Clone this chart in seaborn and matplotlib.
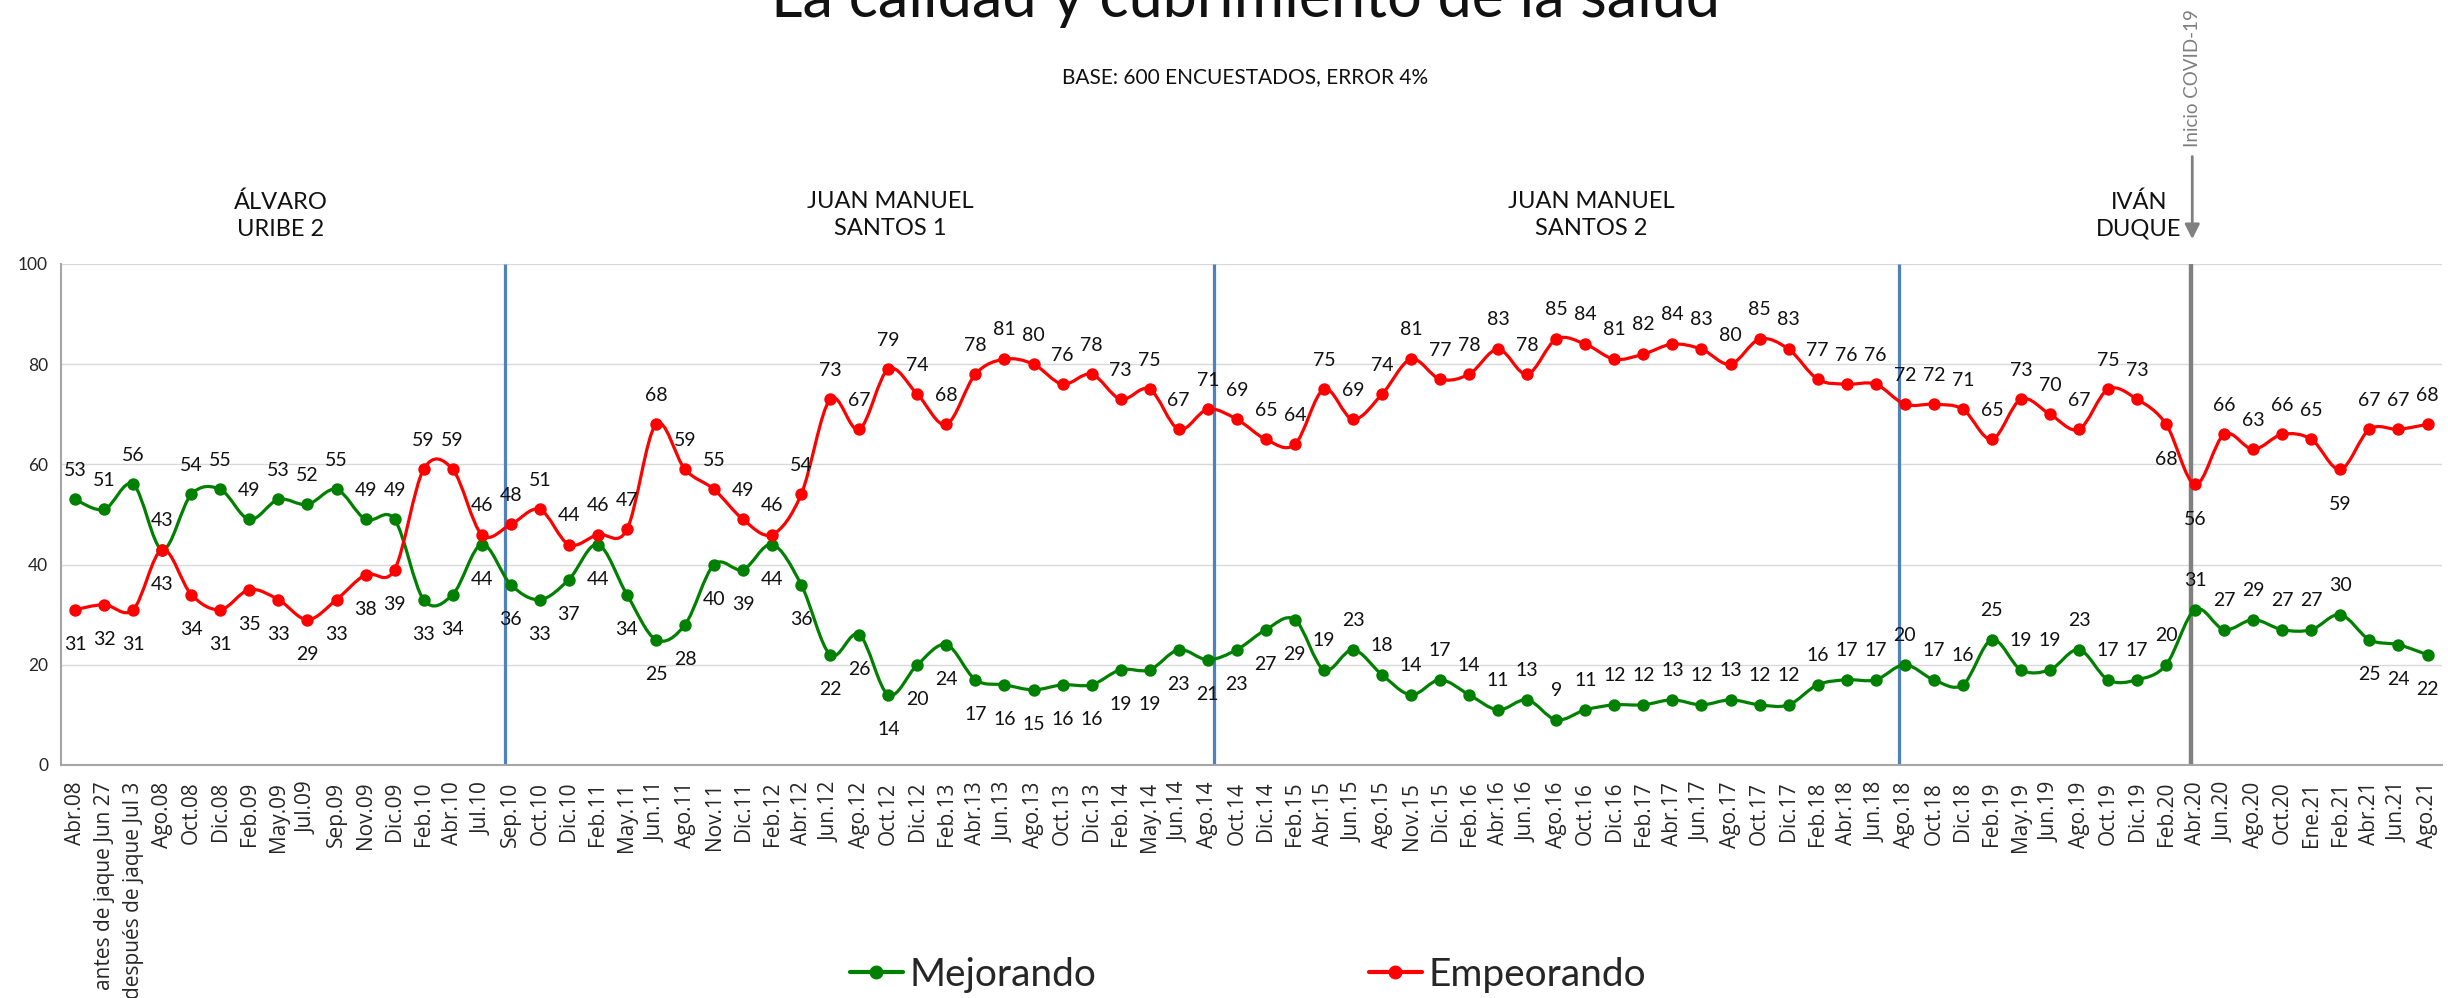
import numpy as np
import pandas as pd
import matplotlib
matplotlib.use('Agg')
import matplotlib.pyplot as plt
import matplotlib.transforms as mtransforms
from matplotlib.path import Path
from matplotlib.patches import PathPatch
from matplotlib.lines import Line2D
import seaborn as sns

# ==================== datos ====================
periodos = [
    'Abr.08', 'antes de jaque Jun 27', 'después de jaque Jul 3', 'Ago.08', 'Oct.08', 'Dic.08',
    'Feb.09', 'May.09', 'Jul.09', 'Sep.09', 'Nov.09', 'Dic.09', 'Feb.10', 'Abr.10', 'Jul.10',
    'Sep.10', 'Oct.10', 'Dic.10', 'Feb.11', 'May.11', 'Jun.11', 'Ago.11', 'Nov.11', 'Dic.11',
    'Feb.12', 'Abr.12', 'Jun.12', 'Ago.12', 'Oct.12', 'Dic.12', 'Feb.13', 'Abr.13', 'Jun.13',
    'Ago.13', 'Oct.13', 'Dic.13', 'Feb.14', 'May.14', 'Jun.14', 'Ago.14', 'Oct.14', 'Dic.14',
    'Feb.15', 'Abr.15', 'Jun.15', 'Ago.15', 'Nov.15', 'Dic.15', 'Feb.16', 'Abr.16', 'Jun.16',
    'Ago.16', 'Oct.16', 'Dic.16', 'Feb.17', 'Abr.17', 'Jun.17', 'Ago.17', 'Oct.17', 'Dic.17',
    'Feb.18', 'Abr.18', 'Jun.18', 'Ago.18', 'Oct.18', 'Dic.18', 'Feb.19', 'May.19', 'Jun.19',
    'Ago.19', 'Oct.19', 'Dic.19', 'Feb.20', 'Abr.20', 'Jun.20', 'Ago.20', 'Oct.20', 'Ene.21',
    'Feb.21', 'Abr.21', 'Jun.21', 'Ago.21',
]

mejorando = [
    53, 51, 56, 43, 54, 55, 49, 53, 52, 55,
    49, 49, 33, 34, 44, 36, 33, 37, 44, 34,
    25, 28, 40, 39, 44, 36, 22, 26, 14, 20,
    24, 17, 16, 15, 16, 16, 19, 19, 23, 21,
    23, 27, 29, 19, 23, 18, 14, 17, 14, 11,
    13, 9, 11, 12, 12, 13, 12, 13, 12, 12,
    16, 17, 17, 20, 17, 16, 25, 19, 19, 23,
    17, 17, 20, 31, 27, 29, 27, 27, 30, 25,
    24, 22,
]

empeorando = [
    31, 32, 31, 43, 34, 31, 35, 33, 29, 33,
    38, 39, 59, 59, 46, 48, 51, 44, 46, 47,
    68, 59, 55, 49, 46, 54, 73, 67, 79, 74,
    68, 78, 81, 80, 76, 78, 73, 75, 67, 71,
    69, 65, 64, 75, 69, 74, 81, 77, 78, 83,
    78, 85, 84, 81, 82, 84, 83, 80, 85, 83,
    77, 76, 76, 72, 72, 71, 65, 73, 70, 67,
    75, 73, 68, 56, 66, 63, 66, 65, 59, 67,
    67, 68,
]

presidentes = ['ÁLVARO\nURIBE 2', 'JUAN MANUEL\nSANTOS 1', 'JUAN MANUEL\nSANTOS 2', 'IVÁN\nDUQUE']

# posiciones de las etiquetas (debajo del punto)
verde_abajo = set(range(12, 43)) | {79, 80, 81}
rojo_abajo = set(range(0, 12)) | {72, 73, 78}

VERDE = '#008000'
ROJO = '#ff0000'

sns.set_theme(style='white')
plt.rcParams['font.family'] = ['Lato', 'DejaVu Sans']

df = pd.DataFrame({
    'idx': np.arange(len(periodos)),
    'periodo': periodos,
    'Mejorando': mejorando,
    'Empeorando': empeorando,
})

fig = plt.figure(figsize=(24.48, 9.98), dpi=100)
ax = fig.add_axes([0.02476, 0.2335, 0.9728, 0.502])


def curva_suave(x, y):
    # bezier tipo Excel: puntos de control con los vecinos
    x = np.asarray(x, float)
    y = np.asarray(y, float)
    n = len(x)
    verts = [(x[0], y[0])]
    codes = [Path.MOVETO]
    for i in range(n - 1):
        x0, y0 = (x[i - 1], y[i - 1]) if i > 0 else (x[i], y[i])
        x3, y3 = (x[i + 2], y[i + 2]) if i + 2 < n else (x[i + 1], y[i + 1])
        c1 = (x[i] + (x[i + 1] - x0) / 6, y[i] + (y[i + 1] - y0) / 6)
        c2 = (x[i + 1] - (x3 - x[i]) / 6, y[i + 1] - (y3 - y[i]) / 6)
        verts += [c1, c2, (x[i + 1], y[i + 1])]
        codes += [Path.CURVE4] * 3
    return Path(verts, codes)


for serie, color, abajo in [('Mejorando', VERDE, verde_abajo), ('Empeorando', ROJO, rojo_abajo)]:
    ax.add_patch(PathPatch(curva_suave(df['idx'], df[serie]), fill=False,
                           edgecolor=color, lw=2.3, zorder=3))
    sns.scatterplot(data=df, x='idx', y=serie, color=color, s=80, linewidth=0,
                    ax=ax, zorder=4)
    for i, v in enumerate(df[serie]):
        dy = -25 if i in abajo else 21
        ax.annotate(str(v), (i, v), xytext=(0, dy), textcoords='offset points',
                    ha='center', va='center', fontsize=14, color='#111111', zorder=5)

# líneas de cambio de gobierno
ax.vlines([14.81, 39.22, 62.8], 0, 100, color='#4f81bd', lw=2.3, zorder=2)
ax.vlines(72.85, 0, 100, color='#808080', lw=3.2, zorder=2)

ax.set_xlim(-0.5, len(periodos) - 0.5)
ax.set_ylim(0, 100)
ax.set_yticks(range(0, 101, 20))
ax.set_xticks(df['idx'])
ax.set_xticklabels(periodos, rotation=90, fontsize=15, family=['Open Sans', 'DejaVu Sans'])
ax.set_xticks(np.arange(-0.5, len(periodos), 1), minor=True)
ax.tick_params(axis='x', which='major', length=0, pad=12)
ax.tick_params(axis='x', which='minor', length=6, width=1.3, color='#a6a6a6', direction='out')
ax.tick_params(axis='y', length=6, width=1.3, color='#a6a6a6', labelsize=12.5, pad=3, direction='out')
ax.set_xlabel('')
ax.set_ylabel('')
ax.grid(axis='y', color='#d9d9d9', lw=1.0)
ax.grid(axis='x', visible=False)
for s in ['top', 'right']:
    ax.spines[s].set_visible(False)
for s in ['left', 'bottom']:
    ax.spines[s].set_color('#a6a6a6')
    ax.spines[s].set_linewidth(1.5)

trans = mtransforms.blended_transform_factory(ax.transData, ax.transAxes)
for x, txt in zip([7.08, 28.06, 52.2, 71.07], presidentes):
    ax.text(x, 1.097, txt, transform=trans, ha='center', va='center', fontsize=17,
            linespacing=1.35, color='#111111')

# anotación covid
ax.annotate('', xy=(72.9, 1.044), xytext=(72.9, 1.22), xycoords=trans, textcoords=trans,
            arrowprops=dict(arrowstyle='-|>', color='#808080', lw=2, mutation_scale=22),
            annotation_clip=False)
ax.text(72.9, 1.371, 'Inicio COVID-19', transform=trans, rotation=90, ha='center', va='center',
        fontsize=13.5, color='#7f7f7f')

fig.text(0.5086, 1 - 17 / 998, 'La calidad y cubrimiento de la salud', ha='center',
         va='baseline', fontsize=44, color='#111111')
fig.text(0.5086, 0.923, 'BASE: 600 ENCUESTADOS, ERROR 4%', ha='center', va='center',
         fontsize=15, color='#111111')

handles = [Line2D([], [], color=VERDE, lw=3, marker='o', ms=9),
           Line2D([], [], color=ROJO, lw=3, marker='o', ms=9)]
fig.legend(handles, ['Mejorando', 'Empeorando'], loc='center', bbox_to_anchor=(0.5098, 0.023),
           ncol=2, frameon=False, fontsize=28, handlelength=1.36, handletextpad=0.18,
           columnspacing=7.0)

fig.savefig('out.png', dpi=100)
